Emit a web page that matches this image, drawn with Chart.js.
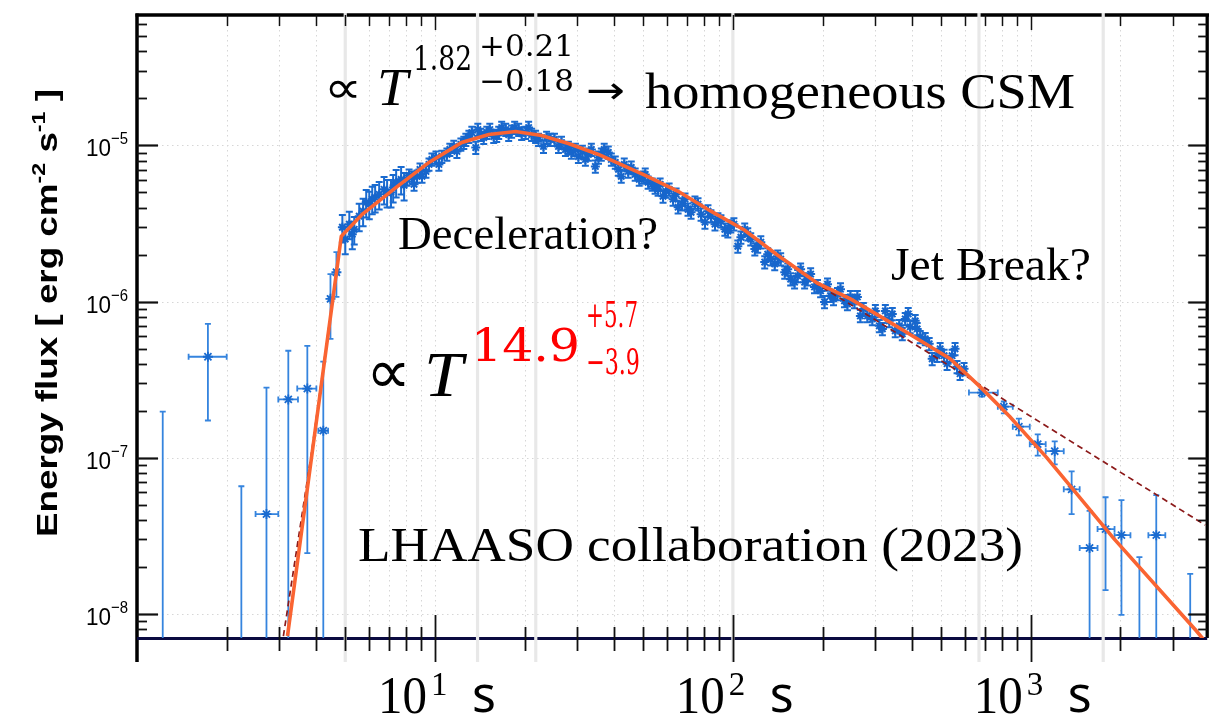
<!DOCTYPE html>
<html>
<head>
<meta charset="utf-8">
<script src="https://cdn.jsdelivr.net/npm/chart.js@4.4.0/dist/chart.umd.min.js"></script>
<style>
  html, body { margin: 0; padding: 0; background: #fff; overflow: hidden; }
  #wrap { width: 1214px; height: 719px; }
</style>
</head>
<body>
<div id="wrap"><canvas id="lightcurve" width="1214" height="719"></canvas></div>
<script>
// Dense light curve (time in s, energy flux in erg cm^-2 s^-1)
const denseT = [4.89, 5.00, 5.16, 5.28, 5.36, 5.57, 5.74, 5.88, 6.02, 6.16, 6.30, 6.50, 6.75, 6.91, 7.12, 7.24, 7.41, 7.70, 7.88, 8.06,
  8.19, 8.38, 8.51, 8.71, 8.91, 9.05, 9.33, 9.55, 9.77, 10.08, 10.31, 10.55, 10.97, 11.22, 11.57, 11.85, 12.22, 12.50, 12.70, 13.0,
  13.30, 13.71, 13.93, 14.25, 14.58, 14.93, 15.28, 15.75, 16.12, 16.37, 16.75, 17.28, 17.68, 18.09, 18.52, 19.10, 19.54, 20.15, 20.63, 21.11,
  21.77, 22.27, 23.14, 23.70, 24.43, 25.19, 25.98, 26.59, 27.42, 28.06, 28.71, 29.62, 30.31, 31.26, 31.99, 32.74, 33.5, 34.55, 35.4, 36.18,
  37.0, 38.19, 39.1, 40.31, 41.3, 42.21, 43.2, 44.55, 45.6, 47.01, 48.5, 50.0, 50.8, 51.95, 53.6, 54.83, 56.1, 57.0, 58.3, 59.7,
  61.1, 63.0, 64.5, 65.5, 67.5, 69.1, 70.7, 72.4, 74.6, 76.4, 78.2, 80.6, 82.5, 84.4, 87.1, 89.1, 91.2, 94.0, 96.2, 98.4,
  100.8, 103.9, 106.4, 109.6, 112.2, 114.8, 118.5, 121.2, 124.1, 127.9, 130.9, 134.0, 138.2, 141.4, 144.7, 149.3, 152.8, 156.3, 161.1, 165.0,
  168.8, 174.1, 178.2, 182.4, 187.9, 192.3, 197.0, 203.1, 207.8, 212.7, 217.7, 224.5, 229.7, 236.9, 242.4, 248.1, 255.9, 261.8, 267.9, 274.2,
  282.8, 293.8, 300.8, 310.1, 317.6, 324.9, 335.0, 342.9, 350.8, 361.9, 370.4, 378.9, 387.8, 393.8, 409.3, 415.6, 425.6, 442.3, 456.0, 466.7,
  484.9, 496.3, 511.7, 523.7, 544.3, 556.9, 565.5, 578.9, 597.0];
const denseF = [2.99e-6, 2.51e-6, 3.13e-6, 2.70e-6, 2.90e-6, 3.52e-6, 3.79e-6, 4.32e-6, 4.20e-6, 4.52e-6, 4.65e-6, 4.86e-6, 5.23e-6, 5.00e-6, 5.00e-6, 5.38e-6, 5.80e-6, 6.06e-6, 5.55e-6, 6.06e-6,
  6.42e-6, 6.24e-6, 5.63e-6, 6.33e-6, 7.02e-6, 6.33e-6, 6.81e-6, 7.55e-6, 8.13e-6, 8.37e-6, 7.55e-6, 8.49e-6, 8.75e-6, 9.41e-6, 9.84e-6, 9.14e-6, 1.014e-5, 1.043e-5, 1.091e-5, 1.140e-5,
  1.208e-5, 9.69e-6, 1.263e-5, 1.174e-5, 1.123e-5, 1.208e-5, 1.263e-5, 1.140e-5, 1.157e-5, 1.208e-5, 1.30e-5, 1.263e-5, 1.174e-5, 1.23e-5, 1.30e-5, 1.263e-5, 1.19e-5, 1.208e-5, 1.30e-5, 1.174e-5,
  1.140e-5, 1.091e-5, 9.84e-6, 1.123e-5, 1.091e-5, 1.091e-5, 9.84e-6, 1.043e-5, 9.41e-6, 9.69e-6, 9.01e-6, 9.41e-6, 8.49e-6, 9.14e-6, 8.13e-6, 8.75e-6, 9.41e-6, 7.33e-6, 8.37e-6, 8.75e-6,
  9.41e-6, 9.01e-6, 8.13e-6, 7.78e-6, 7.02e-6, 6.33e-6, 7.55e-6, 6.81e-6, 7.23e-6, 6.52e-6, 6.06e-6, 6.24e-6, 6.52e-6, 5.80e-6, 5.63e-6, 5.38e-6, 5.23e-6, 5.63e-6, 4.72e-6, 5.08e-6,
  5.23e-6, 4.52e-6, 4.86e-6, 4.02e-6, 4.20e-6, 4.52e-6, 3.90e-6, 3.73e-6, 4.32e-6, 4.20e-6, 3.62e-6, 3.22e-6, 3.79e-6, 3.52e-6, 3.13e-6, 3.37e-6, 3.27e-6, 2.90e-6, 2.82e-6, 3.04e-6,
  3.13e-6, 2.26e-6, 2.58e-6, 2.90e-6, 2.70e-6, 2.51e-6, 2.17e-6, 2.26e-6, 2.40e-6, 1.79e-6, 2.01e-6, 1.87e-6, 1.74e-6, 1.95e-6, 1.87e-6, 1.54e-6, 1.61e-6, 1.39e-6, 1.33e-6, 1.46e-6,
  1.61e-6, 1.33e-6, 1.39e-6, 1.50e-6, 1.24e-6, 1.26e-6, 1.17e-6, 9.94e-7, 1.29e-6, 1.09e-6, 1.04e-6, 1.12e-6, 1.20e-6, 1.01e-6, 9.65e-7, 1.07e-6, 9.94e-7, 1.07e-6, 8.09e-7, 8.97e-7,
  8.09e-7, 7.74e-7, 8.71e-7, 6.99e-7, 6.68e-7, 8.71e-7, 7.52e-7, 8.33e-7, 6.49e-7, 6.99e-7, 6.21e-7, 7.74e-7, 8.33e-7, 6.89e-7, 7.52e-7, 6.68e-7, 5.94e-7, 5.77e-7, 5.36e-7, 4.30e-7,
  4.50e-7, 4.98e-7, 4.50e-7, 4.00e-7, 4.50e-7, 4.98e-7, 3.82e-7, 3.45e-7, 3.71e-7];
// relative error bars of the dense points (larger before ~8 s)
const denseErrEarly = 0.2;
const denseErrLate = 0.09;
const denseErrSwitchT = 8;

// Early sparse bins
const earlyT = [1.73, 2.72, 3.22, 3.73, 4.22, 4.46, 4.67];
const earlyTLo = [1.49, 2.50, 2.98, 3.45, 4.06, 4.40, 4.60];
const earlyTHi = [2.00, 2.98, 3.47, 4.00, 4.38, 4.55, 4.75];
const earlyF = [4.43e-7, 4.35e-8, 2.36e-7, 2.77e-7, 1.49e-7, 1.04e-6, 1.54e-6];
const earlyFLo = [1.73e-7, null, null, 2.45e-8, null, 5.77e-7, 1.07e-6];
const earlyFHi = [7.2e-7, 2.81e-7, 4.84e-7, 5.2e-7, 4.12e-7, 1.50e-6, 2.07e-6];

// Late sparse bins
const lateT = [685.5, 812, 912, 1055, 1203, 1371, 1575, 1782, 2015, 2637];
const lateTLo = [620, 775, 870, 992, 1122, 1290, 1459, 1675, 1910, 2481];
const lateTHi = [775, 870, 992, 1122, 1290, 1459, 1675, 1910, 2160, 2828];
const lateF = [2.61e-7, 2.12e-7, 1.58e-7, 1.22e-7, 1.10e-7, 6.27e-8, 2.64e-8, 3.49e-8, 3.19e-8, 3.19e-8];
const lateFLo = [2.46e-7, 1.92e-7, 1.39e-7, 1.03e-7, 9.06e-8, 4.35e-8, null, 1.42e-8, 9.85e-9, null];
const lateFHi = [2.77e-7, 2.29e-7, 1.78e-7, 1.41e-7, 1.27e-7, 8.18e-8, 4.56e-8, 5.58e-8, 5.34e-8, 5.75e-8];

// Upper-limit style bars (no central point)
const limitT = [1.22, 2.24, 2315, 3428];
const limitF = [1.97e-7, 6.56e-8, 2.31e-8, 1.80e-8];

// Fitted model with jet break (solid) and without (dashed)
const fitT = [3.2, 4.85, 5.70, 7.41, 9.55, 12.31, 15.16, 18.66, 22.8, 28.06, 35.4, 50.8, 65.5, 84.4, 109.6, 141.4,
  192.3, 248.1, 322.5, 415.6, 535.9, 675.2, 851, 1131, 1894, 3592, 3878];
const fitF = [7.2e-9, 2.62e-6, 3.62e-6, 5.38e-6, 7.78e-6, 1.043e-5, 1.174e-5, 1.226e-5, 1.157e-5, 1.028e-5, 8.75e-6, 6.42e-6, 5.08e-6, 3.79e-6, 2.86e-6, 1.98e-6,
  1.31e-6, 1.04e-6, 7.74e-7, 5.77e-7, 4.30e-7, 2.85e-7, 1.83e-7, 1.00e-7, 3.05e-8, 7.79e-9, 6.53e-9];
const noBreakT = [3.10, 3.85, 4.85, 5.70, 7.41, 9.55, 12.31, 15.16, 18.66, 22.8, 28.06, 35.4, 50.8, 65.5, 84.4, 109.6, 141.4,
  192.3, 282.8, 415.6, 831, 3849];
const noBreakF = [7.2e-9, 1.065e-7, 2.62e-6, 3.62e-6, 5.38e-6, 7.78e-6, 1.043e-5, 1.174e-5, 1.226e-5, 1.157e-5, 1.028e-5, 8.75e-6, 6.42e-6, 5.08e-6, 3.79e-6, 2.86e-6, 1.98e-6,
  1.29e-6, 8.21e-7, 5.21e-7, 2.29e-7, 3.70e-8];

// Light grey vertical marker lines (s)
const markerT = [5, 13.9, 21.8, 100, 670, 1750];

// Axis ticks and labels
const xDecades = [10, 100, 1000];
const xDecadeExp = ["1", "2", "3"];
const yDecades = [1e-8, 1e-7, 1e-6, 1e-5];
const yDecadeExp = ["\u22128", "\u22127", "\u22126", "\u22125"];

const xMin = 1, xMax = 3909;
const yMin = 7.24e-9, yMax = 6.84e-5;

const mathFont = "'DejaVu Serif Condensed', 'DejaVu Serif'";

function pts(t, f, extra) {
  return t.map((v, i) => Object.assign({ x: v, y: f[i] }, extra ? extra(i) : {}));
}

function logTicks(min, max) {
  const out = [];
  for (let e = Math.floor(Math.log10(min)); e <= Math.ceil(Math.log10(max)); e++) {
    for (let m = 1; m < 10; m++) {
      const v = m * Math.pow(10, e);
      if (v > min * 1.001 && v < max * 0.999) out.push({ v, major: m === 1 });
    }
  }
  return out;
}

function fitText(ctx, text, font, x0, x1, base, color) {
  ctx.font = font;
  const w = ctx.measureText(text).width;
  ctx.save();
  ctx.translate(x0, base);
  ctx.scale((x1 - x0) / w, 1);
  ctx.fillStyle = color || "#000";
  ctx.textAlign = "left";
  ctx.textBaseline = "alphabetic";
  ctx.fillText(text, 0, 0);
  ctx.restore();
}

// Background: dotted grid, frame, grey marker lines
const framePlugin = {
  id: "frame",
  beforeDatasetsDraw(chart) {
    const { ctx, chartArea: a, scales: { x, y } } = chart;
    ctx.save();
    ctx.strokeStyle = "#d6d6d6";
    ctx.lineWidth = 1;
    ctx.setLineDash([1.5, 3.5]);
    logTicks(xMin, xMax).forEach((t) => {
      const px = Math.round(x.getPixelForValue(t.v)) + 0.5;
      ctx.beginPath(); ctx.moveTo(px, a.top); ctx.lineTo(px, a.bottom); ctx.stroke();
    });
    yDecades.forEach((v) => {
      const py = Math.round(y.getPixelForValue(v)) + 0.5;
      ctx.beginPath(); ctx.moveTo(a.left, py); ctx.lineTo(a.right, py); ctx.stroke();
    });
    ctx.setLineDash([]);

    // frame
    ctx.strokeStyle = "#000";
    ctx.lineWidth = 3.3;
    ctx.beginPath(); ctx.moveTo(a.left - 1.5, a.top); ctx.lineTo(a.right + 2, a.top); ctx.stroke();
    ctx.beginPath(); ctx.moveTo(a.right, a.top); ctx.lineTo(a.right, a.bottom); ctx.stroke();
    ctx.lineWidth = 3.5;
    ctx.beginPath(); ctx.moveTo(a.left, a.top - 1.5); ctx.lineTo(a.left, a.bottom + 24); ctx.stroke();
    ctx.strokeStyle = "#0a0a40";
    ctx.lineWidth = 3;
    ctx.beginPath(); ctx.moveTo(a.left, a.bottom + 0.5); ctx.lineTo(a.right, a.bottom + 0.5); ctx.stroke();

    // grey marker lines
    ctx.strokeStyle = "#e8e8e8";
    ctx.lineWidth = 3.2;
    markerT.forEach((v) => {
      const px = x.getPixelForValue(v);
      ctx.beginPath(); ctx.moveTo(px, a.top - 2); ctx.lineTo(px, a.bottom + 24); ctx.stroke();
    });
    ctx.restore();
  },
  afterDatasetsDraw(chart) {
    const { ctx, chartArea: a, scales: { x, y } } = chart;
    ctx.save();
    ctx.strokeStyle = "#111";
    // x ticks: bottom (crossing) and top (inward)
    logTicks(xMin, xMax).forEach((t) => {
      const px = Math.round(x.getPixelForValue(t.v)) + 0.5;
      ctx.lineWidth = 1.8;
      const up = t.major ? 23 : 11, down = t.major ? 24 : 13;
      ctx.beginPath(); ctx.moveTo(px, a.bottom - up); ctx.lineTo(px, a.bottom + down); ctx.stroke();
      ctx.lineWidth = 1.5;
      ctx.beginPath(); ctx.moveTo(px, a.top); ctx.lineTo(px, a.top + (t.major ? 15 : 11)); ctx.stroke();
    });
    // y ticks: left and right (inward)
    logTicks(yMin, yMax).forEach((t) => {
      const py = Math.round(y.getPixelForValue(t.v)) + 0.5;
      ctx.lineWidth = t.major ? 2.2 : 1.8;
      const len = t.major ? 21 : 10;
      ctx.beginPath(); ctx.moveTo(a.left, py); ctx.lineTo(a.left + len, py); ctx.stroke();
      ctx.beginPath(); ctx.moveTo(a.right, py); ctx.lineTo(a.right - (t.major ? 19 : 9), py); ctx.stroke();
    });
    ctx.restore();
  }
};

// Error bars drawn under each point dataset
const errorBarPlugin = {
  id: "errorBars",
  beforeDatasetDraw(chart, args) {
    const ds = chart.data.datasets[args.index];
    if (!ds.errorBars) return;
    const { ctx, chartArea: a, scales: { x, y } } = chart;
    ctx.save();
    ctx.beginPath();
    ctx.rect(a.left, a.top, a.right - a.left, a.bottom - a.top);
    ctx.clip();
    ctx.strokeStyle = ds.errorColor;
    ctx.lineWidth = ds.errorWidth;
    const cap = ds.capSize;
    ds.data.forEach((p) => {
      const px = x.getPixelForValue(p.x);
      const py = y.getPixelForValue(p.y);
      const top = y.getPixelForValue(p.yHi);
      const bot = p.yLo ? y.getPixelForValue(p.yLo) : a.bottom + 3;
      ctx.beginPath();
      ctx.moveTo(px, bot); ctx.lineTo(px, top);
      ctx.moveTo(px - cap, top); ctx.lineTo(px + cap, top);
      if (p.yLo) { ctx.moveTo(px - cap, bot); ctx.lineTo(px + cap, bot); }
      if (p.xLo) {
        const l = x.getPixelForValue(p.xLo), r = x.getPixelForValue(p.xHi);
        ctx.moveTo(l, py); ctx.lineTo(r, py);
        ctx.moveTo(l, py - cap); ctx.lineTo(l, py + cap);
        ctx.moveTo(r, py - cap); ctx.lineTo(r, py + cap);
      }
      ctx.stroke();
    });
    ctx.restore();
  }
};

// Labels, formulae and tick labels
const textPlugin = {
  id: "texts",
  afterDraw(chart) {
    const { ctx, scales: { x, y } } = chart;
    ctx.save();

    // x tick labels
    xDecades.forEach((v, i) => {
      const px = x.getPixelForValue(v);
      fitText(ctx, "10", "52px 'Liberation Serif'", px - 57, px - 8, 713);
      ctx.font = "33px 'Liberation Serif'";
      ctx.fillStyle = "#000";
      ctx.textAlign = "left";
      ctx.fillText(xDecadeExp[i], px - 4, 695);
      ctx.font = "50px 'Noto Sans'";
      ctx.fillText("s", px + 37, 712);
    });

    // y tick labels
    yDecades.forEach((v, i) => {
      const py = y.getPixelForValue(v);
      ctx.fillStyle = "#000";
      ctx.textAlign = "left";
      fitText(ctx, "10", "23px 'Liberation Sans'", 86, 111, py + 11);
      fitText(ctx, yDecadeExp[i], "17px 'Liberation Sans'", 111, 128, py - 1);
    });

    // y axis title, rotated
    ctx.save();
    ctx.translate(57, 537);
    ctx.rotate(-Math.PI / 2);
    const parts = [
      ["Energy flux [ erg cm", "bold 30px 'Liberation Sans'", 0],
      ["-2", "bold 19px 'Liberation Sans'", -12],
      [" s", "bold 30px 'Liberation Sans'", 0],
      ["-1", "bold 19px 'Liberation Sans'", -12],
      [" ]", "bold 30px 'Liberation Sans'", 0]
    ];
    let total = 0;
    parts.forEach((p) => { ctx.font = p[1]; total += ctx.measureText(p[0]).width; });
    ctx.scale(448 / total, 1);
    let cx = 0;
    parts.forEach((p) => {
      ctx.font = p[1];
      ctx.fillStyle = "#000";
      ctx.textAlign = "left";
      ctx.fillText(p[0], cx, p[2]);
      cx += ctx.measureText(p[0]).width;
    });
    ctx.restore();

    // top formula
    fitText(ctx, "\u221D", "46px 'DejaVu Sans'", 324, 362, 103);
    fitText(ctx, "T", "italic 52px 'Liberation Serif'", 377, 408, 105);
    fitText(ctx, "1.82", "34px " + mathFont, 413, 472, 70);
    fitText(ctx, "+0.21", "30px " + mathFont, 479, 574, 56);
    fitText(ctx, "\u22120.18", "30px " + mathFont, 479, 574, 91);
    fitText(ctx, "\u2192", "38px 'DejaVu Sans'", 586, 625, 103);
    fitText(ctx, "homogeneous CSM", "51px 'Liberation Serif'", 645, 1075, 108);

    // rise formula
    fitText(ctx, "\u221D", "62px 'DejaVu Sans'", 366, 411, 393);
    fitText(ctx, "T", "italic 64px 'Liberation Serif'", 424, 463, 396);
    fitText(ctx, "14.9", "44px " + mathFont, 471, 580, 361, "#ff0000");
    fitText(ctx, "+5.7", "36px " + mathFont, 586, 638, 327, "#ff0000");
    fitText(ctx, "\u22123.9", "36px " + mathFont, 586, 640, 374, "#ff0000");

    // other annotations
    fitText(ctx, "Deceleration?", "46px 'Liberation Serif'", 398, 658, 249);
    fitText(ctx, "Jet Break?", "46px 'Liberation Serif'", 891, 1091, 280);
    fitText(ctx, "LHAASO collaboration (2023)", "48px 'Liberation Serif'", 358, 1023, 561);
    ctx.restore();
  }
};

const denseData = pts(denseT, denseF, (i) => {
  const e = denseT[i] < denseErrSwitchT ? denseErrEarly : denseErrLate;
  return { yLo: denseF[i] * (1 - e), yHi: denseF[i] * (1 + e) };
});
const earlyData = pts(earlyT, earlyF, (i) => ({ xLo: earlyTLo[i], xHi: earlyTHi[i], yLo: earlyFLo[i], yHi: earlyFHi[i] }));
const lateData = pts(lateT, lateF, (i) => ({ xLo: lateTLo[i], xHi: lateTHi[i], yLo: lateFLo[i], yHi: lateFHi[i] }));
const limitData = pts(limitT, limitF, (i) => ({ yLo: null, yHi: limitF[i] }));

new Chart(document.getElementById("lightcurve"), {
  type: "scatter",
  data: {
    datasets: [
      {
        label: "fit",
        data: pts(fitT, fitF),
        showLine: true,
        borderColor: "#fa6432",
        borderWidth: 3.6,
        pointRadius: 0,
        clip: 0,
        order: 0
      },
      {
        label: "no break",
        data: pts(noBreakT, noBreakF),
        showLine: true,
        borderColor: "#8c1a1a",
        borderWidth: 1.7,
        borderDash: [6, 4],
        pointRadius: 0,
        clip: 0,
        order: 1
      },
      {
        label: "dense",
        data: denseData,
        errorBars: true,
        errorColor: "#1a6bd0",
        errorWidth: 2,
        capSize: 3.5,
        pointStyle: "star",
        pointRadius: 4.5,
        borderColor: "#1766cc",
        backgroundColor: "#1766cc",
        borderWidth: 2,
        order: 2
      },
      {
        label: "early",
        data: earlyData,
        errorBars: true,
        errorColor: "#3584de",
        errorWidth: 1.8,
        capSize: 3,
        pointStyle: "star",
        pointRadius: 5,
        borderColor: "#1a6bd0",
        borderWidth: 1.8,
        order: 3
      },
      {
        label: "late",
        data: lateData,
        errorBars: true,
        errorColor: "#3584de",
        errorWidth: 1.8,
        capSize: 3,
        pointStyle: "star",
        pointRadius: 5,
        borderColor: "#1a6bd0",
        borderWidth: 1.8,
        order: 4
      },
      {
        label: "limits",
        data: limitData,
        errorBars: true,
        errorColor: "#3584de",
        errorWidth: 1.8,
        capSize: 3,
        pointRadius: 0,
        order: 5
      }
    ]
  },
  options: {
    responsive: false,
    animation: false,
    layout: { padding: { left: 137, right: 3, top: 15, bottom: 81 } },
    plugins: {
      legend: { display: false },
      tooltip: { enabled: false }
    },
    scales: {
      x: { type: "logarithmic", min: xMin, max: xMax, display: false },
      y: { type: "logarithmic", min: yMin, max: yMax, display: false }
    }
  },
  plugins: [framePlugin, errorBarPlugin, textPlugin]
});
</script>
</body>
</html>
